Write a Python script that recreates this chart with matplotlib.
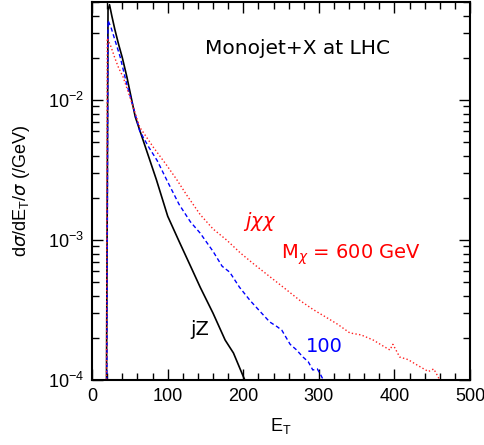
import matplotlib
matplotlib.use("Agg")
import matplotlib.pyplot as plt
import numpy as np

# --- datos ---
et_jz = [0, 18, 19, 21, 23, 26, 30, 35, 40, 46, 57, 70, 85, 100, 115, 132, 143, 160, 176, 187, 200, 210]
ds_jz = [1e-4, 1e-4, 1e-4, 0.044, 0.048, 0.040, 0.032, 0.025, 0.020, 0.0146, 0.0076, 0.0047, 0.0027,
         0.00148, 0.00098, 0.00062, 0.00046, 0.00030, 0.000193, 0.000156, 0.000106, 0.00008]

et_100 = [0, 18, 19.5, 21, 25, 30, 37, 45, 53, 63, 75, 86, 100, 115, 130, 143, 160, 172, 182, 195,
          209, 222, 235, 245, 251, 262, 270, 279, 286, 292, 298, 302, 306, 310]
ds_100 = [1e-4, 1e-4, 1e-4, 0.037, 0.033, 0.027, 0.0204, 0.0135, 0.0095, 0.0060, 0.0046, 0.0037,
          0.0026, 0.0018, 0.00135, 0.00112, 0.00083, 0.00065, 0.00059, 0.00046, 0.00037, 0.00031,
          0.00026, 0.00024, 0.000227, 0.00018, 0.000165, 0.000146, 0.000135, 0.000118, 0.00012,
          0.00011, 0.0001, 0.00009]

et_600 = [0, 18, 19, 20, 25, 30, 35, 41, 50, 63, 81, 99, 112, 125, 143, 160, 178, 196, 213, 231,
          253, 275, 292, 310, 325, 341, 356, 372, 385, 394, 398, 407, 418, 430, 445, 452, 456, 460]
ds_600 = [1e-4, 1e-4, 1e-4, 0.0277, 0.024, 0.020, 0.017, 0.0146, 0.0105, 0.0064, 0.0046, 0.0034,
          0.0027, 0.0021, 0.00152, 0.0012, 0.0010, 0.00081, 0.00068, 0.00057, 0.00046, 0.00037,
          0.00032, 0.00028, 0.00025, 0.000217, 0.00021, 0.000193, 0.000175, 0.000164, 0.00018,
          0.000146, 0.00014, 0.000128, 0.000115, 0.00012, 0.00011, 0.0001]

plt.rcParams['font.family'] = ['Liberation Sans', 'DejaVu Sans']

fig = plt.figure(figsize=(4.85, 4.45), dpi=100)
ax = fig.add_axes([0.19, 0.146, 0.779, 0.849])

ax.plot(et_jz, ds_jz, '-', color='black', lw=1.2)
ax.plot(et_100, ds_100, '--', color='#0000ff', lw=1.0, dashes=(3, 2))
ax.plot(et_600, ds_600, ':', color='#ff2020', lw=1.0)

ax.set_yscale('log')
ax.set_xlim(0, 500)
ax.set_ylim(1e-4, 5e-2)
ax.set_xticks([0, 100, 200, 300, 400, 500])
ax.set_xticks(np.arange(0, 501, 20), minor=True)
ax.tick_params(which='both', direction='in', top=True, right=True, labelsize=13)
ax.tick_params(which='major', length=8, width=1, pad=6)
ax.tick_params(which='minor', length=5, width=1)
for s in ax.spines.values():
    s.set_linewidth(1.5)

ax.set_xlabel(r'E$_\mathregular{T}$', fontsize=13, labelpad=8)
ax.set_ylabel(r'd$\sigma$/dE$_\mathregular{T}$/$\sigma$ (/GeV)', fontsize=13)
ax.yaxis.set_label_coords(-0.16, 0.5)

ax.text(272, 0.0235, 'Monojet+X at LHC', fontsize=14.5, family='DejaVu Sans', ha='center', va='center')
ax.text(200, 1.35e-3, r'j$\chi\chi$', color='red', fontsize=14, style='italic', ha='left', va='center',
        family='DejaVu Sans')
ax.text(250, 7.9e-4, r'M$_\chi$ = 600 GeV', color='red', fontsize=14, family='DejaVu Sans',
        ha='left', va='center')
ax.text(130, 2.3e-4, 'jZ', color='black', fontsize=14, family='DejaVu Sans', ha='left', va='center')
ax.text(283, 1.75e-4, '100', color='#0000ff', fontsize=14, family='DejaVu Sans', ha='left', va='center')

plt.savefig('out.png', dpi=100)
